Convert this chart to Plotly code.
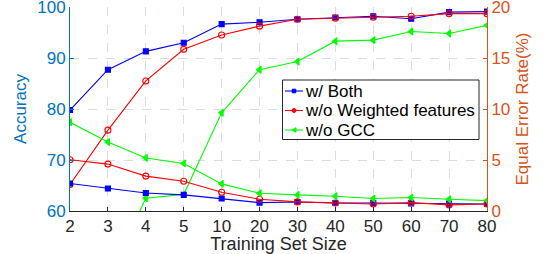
import plotly.graph_objects as go

sizes = ["2", "3", "4", "5", "10", "20", "30", "40", "50", "60", "70", "80"]

acc_both = [79.8, 87.7, 91.3, 93.0, 96.65, 97.0, 97.6, 97.95, 98.2, 97.7, 99.0, 99.1]
acc_noweight = [65.2, 75.85, 85.5, 91.7, 94.5, 96.25, 97.6, 97.8, 98.0, 98.2, 98.7, 98.7]
acc_nogcc = [40.0, 46.7, 62.5, 63.25, 79.25, 87.7, 89.3, 93.3, 93.5, 95.2, 94.8, 96.4]

eer_both = [2.7, 2.2, 1.77, 1.58, 1.22, 0.82, 0.88, 0.79, 0.79, 0.75, 0.72, 0.69]
eer_noweight = [5.02, 4.6, 3.42, 2.92, 1.84, 1.15, 0.89, 0.79, 0.69, 0.82, 0.6, 0.69]
eer_nogcc = [8.7, 6.76, 5.2, 4.66, 2.66, 1.74, 1.58, 1.45, 1.22, 1.32, 1.15, 1.02]

series_names = ["w/ Both", "w/o Weighted features", "w/o GCC"]
acc_ticks = [60, 70, 80, 90, 100]
eer_ticks = [0, 5, 10, 15, 20]

W, H = 553, 254
ML, MR, MT, MB = 70, 66, 7, 43
PW, PH = W - ML - MR, H - MT - MB


def px(x):
    return (x - ML) / PW


def py(y):
    return (H - MB - y) / PH


styles = [
    ("#0000FF", "square", 5),
    ("#FF0000", "circle-open", 6),
    ("#00FF00", "triangle-left", 6),
]
accs = [acc_both, acc_noweight, acc_nogcc]
eers = [eer_both, eer_noweight, eer_nogcc]

fig = go.Figure()
for name, acc, (color, sym, ms) in zip(series_names, accs, styles):
    fig.add_trace(go.Scatter(
        x=sizes, y=acc, name=name, mode="lines+markers", showlegend=False,
        line=dict(color=color, width=1.1),
        marker=dict(symbol=sym, size=ms, color=color, line=dict(color=color, width=1.1)),
    ))
for name, eer, (color, sym, ms) in zip(series_names, eers, styles):
    fig.add_trace(go.Scatter(
        x=sizes, y=eer, name=name, mode="lines+markers", yaxis="y2", showlegend=False,
        line=dict(color=color, width=1.1),
        marker=dict(symbol=sym, size=ms, color=color, line=dict(color=color, width=1.1)),
    ))

font_family = "Liberation Sans, Arial, sans-serif"

# custom legend (MATLAB style, compact)
shapes = [dict(type="rect", xref="paper", yref="paper",
               x0=px(282.5), x1=px(479), y0=py(139.5), y1=py(80),
               line=dict(color="#262626", width=1), fillcolor="white", layer="above")]
annotations = []
rows = [91, 110.5, 130]
for name, (color, sym, ms), ry in zip(series_names, styles, rows):
    shapes.append(dict(type="line", xref="paper", yref="paper",
                       x0=px(285), x1=px(303), y0=py(ry), y1=py(ry),
                       line=dict(color=color, width=1.1), layer="above"))
    cx = 294
    if sym == "square":
        shapes.append(dict(type="rect", xref="paper", yref="paper",
                           x0=px(cx - 1.8), x1=px(cx + 1.8), y0=py(ry + 1.8), y1=py(ry - 1.8),
                           line=dict(color=color, width=1), fillcolor=color, layer="above"))
    elif sym == "circle-open":
        shapes.append(dict(type="circle", xref="paper", yref="paper",
                           x0=px(cx - 2), x1=px(cx + 2), y0=py(ry + 2), y1=py(ry - 2),
                           line=dict(color=color, width=1), fillcolor=color, layer="above"))
    else:
        path = "M {} {} L {} {} L {} {} Z".format(
            px(cx - 2.2), py(ry), px(cx + 2), py(ry - 2.2), px(cx + 2), py(ry + 2.2))
        shapes.append(dict(type="path", xref="paper", yref="paper", path=path,
                           line=dict(color=color, width=1), fillcolor=color, layer="above"))
    annotations.append(dict(xref="paper", yref="paper", x=px(303), y=py(ry),
                            xanchor="left", yanchor="middle", showarrow=False,
                            text=name, font=dict(size=17, color="#000000", family=font_family)))

grid = dict(showgrid=True, gridcolor="#D6DEE6", griddash="dash", gridwidth=1)

fig.update_layout(
    width=W, height=H,
    margin=dict(l=ML, r=MR, t=MT, b=MB, autoexpand=False),
    paper_bgcolor="white", plot_bgcolor="white",
    font=dict(family=font_family, size=16, color="#262626"),
    showlegend=False,
    shapes=shapes,
    annotations=annotations,
    xaxis=dict(
        type="category", range=[0, 11], automargin=False,
        tickfont=dict(size=17, color="#262626"),
        title=dict(text="Training Set Size", font=dict(size=18, color="#262626"), standoff=0),
        showline=True, linecolor="#262626", linewidth=1,
        ticks="inside", ticklen=4, tickcolor="#262626",
        zeroline=False, ticklabeloverflow="allow", **grid,
    ),
    yaxis=dict(
        range=[60, 100], tickmode="array", tickvals=acc_ticks, automargin=False,
        tickfont=dict(size=17, color="#0072BD"),
        title=dict(text="Accuracy", font=dict(size=17, color="#0072BD"), standoff=6),
        showline=True, linecolor="#0072BD", linewidth=1,
        ticks="inside", ticklen=4, tickcolor="#0072BD",
        zeroline=False, ticklabeloverflow="allow", **grid,
    ),
    yaxis2=dict(
        range=[0, 20], tickmode="array", tickvals=eer_ticks, overlaying="y", side="right",
        automargin=False,
        tickfont=dict(size=17, color="#D95319"),
        title=dict(text="Equal Error Rate(%)", font=dict(size=17, color="#D95319"), standoff=6),
        showline=True, linecolor="#D95319", linewidth=1,
        ticks="inside", ticklen=4, tickcolor="#D95319",
        showgrid=False, zeroline=False, ticklabeloverflow="allow",
    ),
)

fig.write_html("out.html", config={"displayModeBar": False},
               post_script="document.body.style.margin='0';document.body.style.overflow='hidden';")
